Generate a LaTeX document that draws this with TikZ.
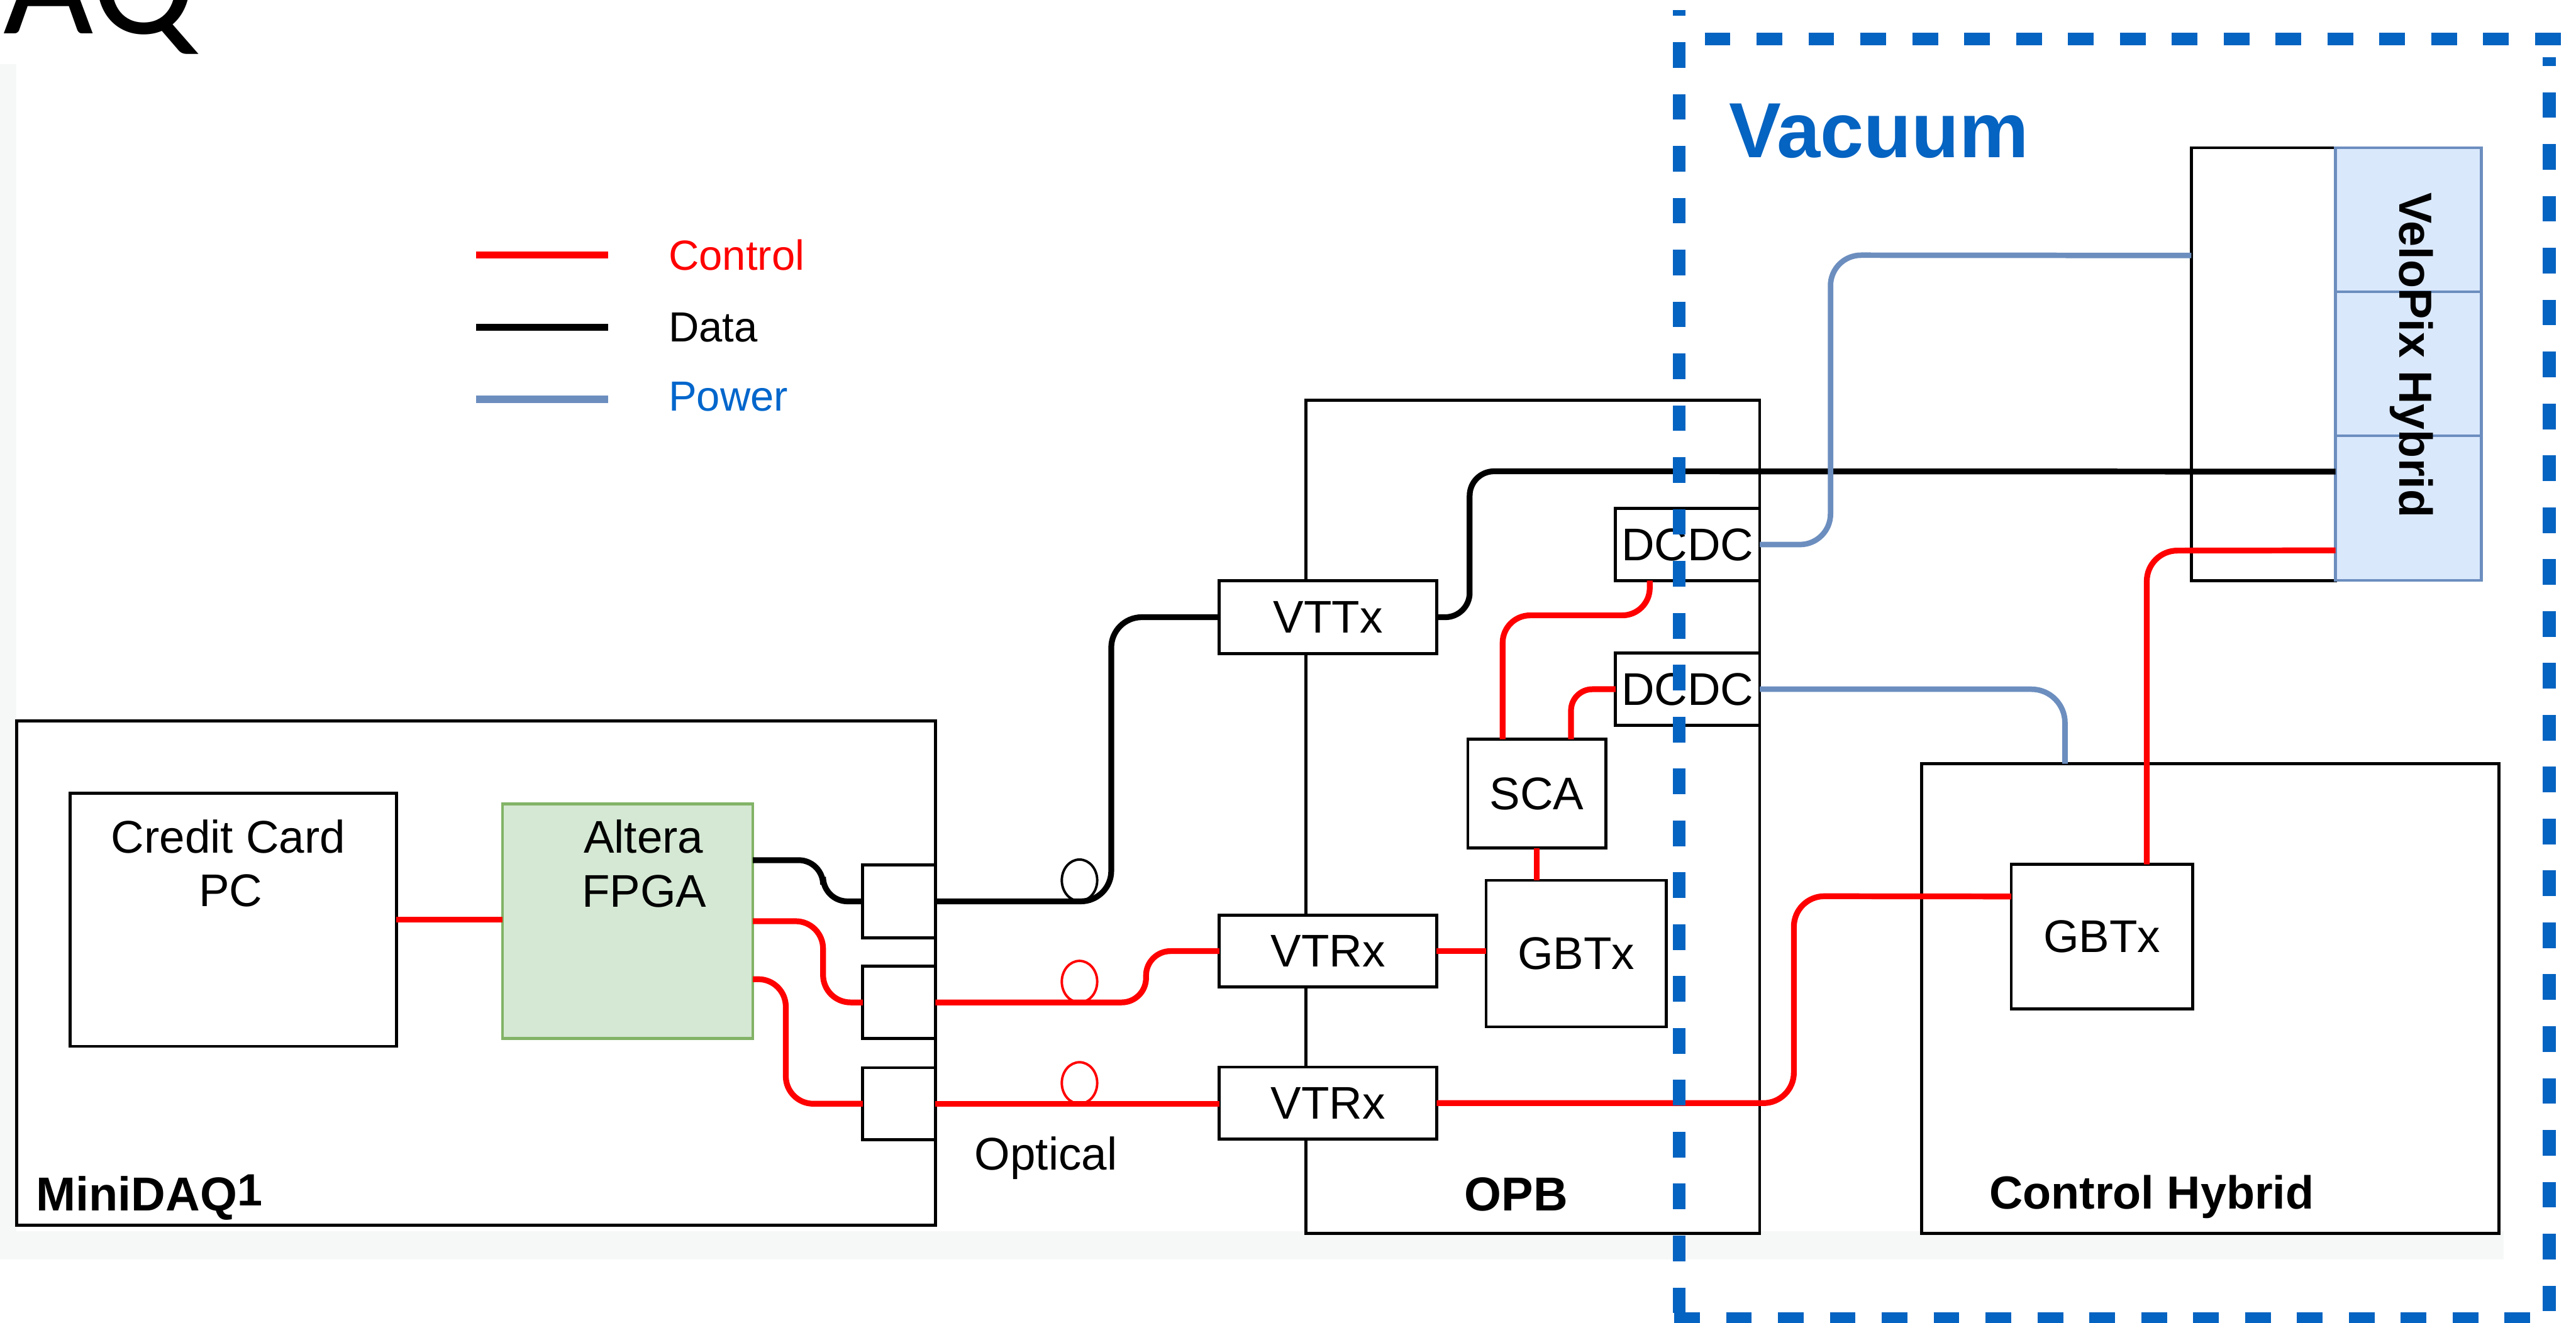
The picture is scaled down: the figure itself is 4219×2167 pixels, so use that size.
\documentclass[tikz,border=0pt]{standalone}
\usepackage{fontspec}
\setmainfont{Liberation Sans}
\newfontfamily\aqfont{Carlito}
\usetikzlibrary{calc}
\definecolor{ctlred}{HTML}{FF0000}
\definecolor{pwrblue}{HTML}{6C8EBF}
\definecolor{vacblue}{HTML}{0563C1}
\definecolor{legblue}{HTML}{0066CC}
\definecolor{fpgafill}{HTML}{D5E8D4}
\definecolor{fpgaline}{HTML}{82B366}
\definecolor{vpfill}{HTML}{DAE8FC}
\definecolor{bggray}{HTML}{F6F8F8}
\begin{document}
\begin{tikzpicture}[x=1pt,y=-1pt,
  box/.style={draw=black, line width=5pt, fill=white, inner sep=0pt, outer sep=0pt, font=\fontsize{75}{88}\selectfont},
  vpbox/.style={draw=pwrblue, line width=4.5pt, fill=vpfill, inner sep=0pt, outer sep=0pt, minimum width=239pt},
  ctl/.style={draw=ctlred, line width=9.5pt},
  dat/.style={draw=black, line width=9.5pt},
  pwr/.style={draw=pwrblue, line width=9pt},
  lbl/.style={font=\fontsize{75}{88}\selectfont, inner sep=0pt},
  blbl/.style={font=\bfseries\fontsize{78}{90}\selectfont, inner sep=0pt},
  leg/.style={font=\fontsize{69}{80}\selectfont, inner sep=0pt, anchor=west},
  loopc/.style={line width=4pt},
  vac/.style={draw=vacblue, line width=21pt, dash pattern=on 42pt off 43pt},
]
\useasboundingbox (0,0) rectangle (4219,2167);
\clip (0,0) rectangle (4219,2167);
% faint screenshot border
\fill[bggray] (0,105) rectangle (4101,2063);
\fill[white] (27,105) rectangle (4101,2017);

% title fragment
\node[anchor=base west, inner sep=0pt, font=\aqfont\fontsize{255}{300}\selectfont] (aq) at (5,55) {AQ};

% legend
\draw[ctl, line width=11.5pt] (780,418) -- (996,418);
\draw[dat, line width=11.5pt] (780,536) -- (996,536);
\draw[pwr, line width=11.5pt] (780,654) -- (996,654);
\node[leg, text=ctlred] (legc) at (1095,418) {Control};
\node[leg] (legd) at (1095,536) {Data};
\node[leg, text=legblue] (legp) at (1095,650) {Power};

% containers
\node[box, minimum width=1505pt, minimum height=826pt] (minidaq) at (779.5,1594) {};
\node[box, minimum width=743pt, minimum height=1364pt] (opb) at (2510.5,1338) {};
\node[box, minimum width=946pt, minimum height=769pt] (ctrl) at (3620,1635.5) {};
\node[box, minimum width=236pt, minimum height=709pt] (velo) at (3707,596.5) {};
\node[vpbox, minimum height=236pt] (vp1) at (3944.5,360) {};
\node[vpbox, minimum height=236pt] (vp2) at (3944.5,596) {};
\node[vpbox, minimum height=237pt] (vp3) at (3944.5,832.5) {};
\node[font=\bfseries\fontsize{76}{90}\selectfont, rotate=-90, inner sep=0pt] (velotxt) at (3950,582) {VeloPix Hybrid};

% MiniDAQ content
\node[box, minimum width=534pt, minimum height=415pt] (pc) at (382,1506.5) {};
\node[lbl, anchor=base] (pct1) at (374,1397) {Credit Card};
\node[lbl, anchor=base] (pct2) at (378,1485) {PC};
\node[box, draw=fpgaline, fill=fpgafill, line width=4.5pt, minimum width=410pt, minimum height=384pt] (fpga) at (1028,1509) {};
\node[lbl, anchor=base] (fpt1) at (1054,1397) {Altera};
\node[lbl, anchor=base] (fpt2) at (1055,1486) {FPGA};
\node[box, minimum width=119pt, minimum height=119pt] (c1) at (1472.5,1476.5) {};
\node[box, minimum width=119pt, minimum height=118pt] (c2) at (1472.5,1642) {};
\node[box, minimum width=119pt, minimum height=118pt] (c3) at (1472.5,1808) {};
\node[blbl, anchor=base west] (mdlbl) at (59,1983) {MiniDAQ\raisebox{8pt}{\fontsize{74}{84}\selectfont 1}};

% OPB content
\node[box, minimum width=356pt, minimum height=120pt] (vttx) at (2175,1011) {VTTx};
\node[box, minimum width=356pt, minimum height=118pt] (vtrx1) at (2175,1558) {VTRx};
\node[box, minimum width=356pt, minimum height=118pt] (vtrx2) at (2175,1807) {VTRx};
\node[box, minimum width=295pt, minimum height=240pt] (gbtx1) at (2581.5,1562) {GBTx};
\node[box, minimum width=226pt, minimum height=178pt] (sca) at (2517,1300) {SCA};
\node[box, minimum width=236pt, minimum height=118pt] (dcdc1) at (2764,892) {DCDC};
\node[box, minimum width=236pt, minimum height=118pt] (dcdc2) at (2764,1129) {DCDC};
\node[blbl, anchor=base] (opblbl) at (2483,1983) {OPB};

% Control hybrid content
\node[box, minimum width=297pt, minimum height=237pt] (gbtx2) at (3442.5,1534.5) {GBTx};
\node[blbl, anchor=base, font=\bfseries\fontsize{76}{90}\selectfont] (chlbl) at (3524,1980) {Control Hybrid};

% optical label
\node[lbl, anchor=base west] (optlbl) at (1596,1916) {Optical};

% connectors inside MiniDAQ
\draw[ctl] (pc.east) -- (pc.east -| fpga.west);
\draw[dat, rounded corners=40pt] ([yshift=100pt]fpga.east) -- (1348,1409) -- (1348,1476.5) -- (c1.west);
\draw[ctl, rounded corners=45pt] (fpga.east) -- (1348,1509) -- (1348,1642) -- (c2.west);
\draw[ctl, rounded corners=45pt] ([yshift=-95pt]fpga.east) -- (1287,1604) -- (1287,1808) -- (c3.west);

% optical links
\draw[dat, rounded corners=50pt] (c1.east) -- (1820,1476.5) -- (1820,1011) -- (vttx.west);
\draw[ctl, rounded corners=40pt] (c2.east) -- (1877,1642) -- (1877,1558) -- (vtrx1.west);
\draw[ctl] (c3.east) -- (c3.east -| vtrx2.west);
\draw[loopc] (1768,1442) ellipse [x radius=29pt, y radius=34pt];
\draw[loopc, draw=ctlred] (1768,1608) ellipse [x radius=29pt, y radius=34pt];
\draw[loopc, draw=ctlred] (1768,1774) ellipse [x radius=29pt, y radius=34pt];

% OPB internal
\draw[ctl] (vtrx1.east) -- (vtrx1.east -| gbtx1.west);
\draw[ctl] (sca.south) -- (sca.south |- gbtx1.north);
\draw[ctl, rounded corners=45pt] ([xshift=-56pt]sca.north) -- (2461,1008) -- (2702,1008) -- ([xshift=-62pt]dcdc1.south);
\draw[ctl, rounded corners=35pt] ([xshift=56pt]sca.north) -- (2573,1129) -- (dcdc2.west);

% data to VeloPix
\draw[dat, rounded corners=40pt] (vttx.east) -- (2407,1011) -- (2407,772) -- ([yshift=60pt]vp3.west);
% power
\draw[pwr, rounded corners=50pt] (dcdc1.east) -- (2998,892) -- (2998,418) -- ([yshift=178pt]velo.west);
\draw[pwr, rounded corners=55pt] (dcdc2.east) -- (3382,1129) -- ([xshift=-238pt]ctrl.north);
% control to hybrids
\draw[ctl, rounded corners=50pt] (vtrx2.east) -- (2938,1807) -- (2938,1468) -- ([yshift=66pt]gbtx2.west);
\draw[ctl, rounded corners=50pt] ([xshift=73.5pt]gbtx2.north) -- (3516,902) -- ([yshift=-69pt]vp3.west);

% vacuum boundary
\node[anchor=base west, inner sep=0pt, text=vacblue, font=\bfseries\fontsize{128}{150}\selectfont] (vaclbl) at (2832,258) {Vacuum};
\draw[vac, dash phase=32pt] (2750,16) -- (2750,2167);
\draw[vac] (2792,64) -- (4194,64);
\draw[vac, dash phase=28pt] (4175,94) -- (4175,2160);
\draw[vac] (2742,2160) -- (4150,2160);
\end{tikzpicture}
\end{document}
